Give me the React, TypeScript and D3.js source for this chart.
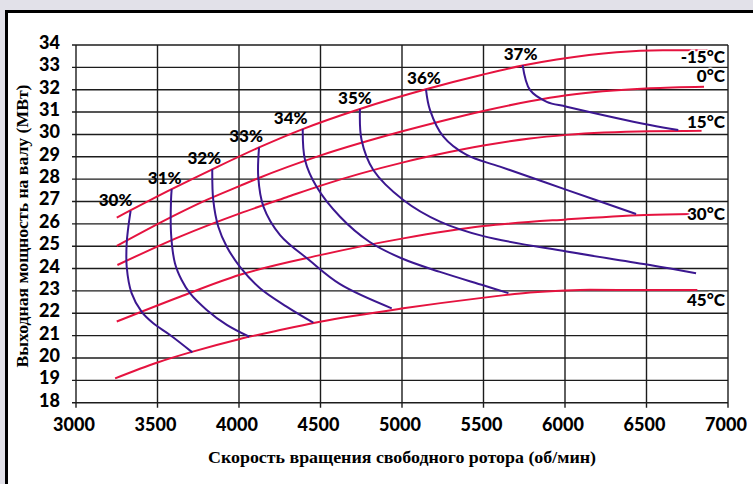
import React from "react";
import * as d3 from "d3";

const W = 753;
const H = 484;

// Axis ticks
const xTicks = [3000, 3500, 4000, 4500, 5000, 5500, 6000, 6500, 7000];
const yTicks = [18, 19, 20, 21, 22, 23, 24, 25, 26, 27, 28, 29, 30, 31, 32, 33, 34];

// Ambient temperature lines: [free-turbine speed (rpm), shaft power (MW)]
const tempLabels = ["-15°C", "0°C", "15°C", "30°C", "45°C"];
const tempM15: [number, number][] = [
  [3250, 26.28], [3587, 27.55], [3836, 28.44], [4123, 29.42], [4391, 30.24], [4742, 31.14],
  [5147, 32.02], [5499, 32.68], [5740, 33.08], [5949, 33.35], [6317, 33.68], [6600, 33.76],
  [6880, 33.76],
];
const temp0: [number, number][] = [
  [3250, 25.01], [3638, 26.5], [3802, 27.07], [4006, 27.7], [4118, 28.04], [4497, 29.05],
  [5008, 30.15], [5233, 30.58], [5499, 31.05], [5785, 31.48], [6010, 31.75], [6521, 32.06],
  [6853, 32.13],
];
const temp15: [number, number][] = [
  [3254, 24.16], [3638, 25.43], [4006, 26.47], [4292, 27.19], [4497, 27.7], [5008, 28.75],
  [5233, 29.12], [5499, 29.5], [5785, 29.82], [6010, 29.98], [6521, 30.14], [6838, 30.16],
];
const temp30: [number, number][] = [
  [3250, 21.63], [3638, 22.74], [4006, 23.72], [4497, 24.6], [5008, 25.35], [5499, 25.9],
  [6010, 26.2], [6495, 26.4], [6790, 26.44],
];
const temp45: [number, number][] = [
  [3240, 19.09], [3500, 19.8], [3700, 20.25], [4000, 20.84], [4252, 21.25], [4497, 21.62],
  [5008, 22.22], [5503, 22.7], [5785, 22.93], [6000, 23.02], [6153, 23.05], [6495, 23.04],
  [6812, 23.04],
];

// Efficiency lines
const effLabels = ["30%", "31%", "32%", "33%", "34%", "35%", "36%", "37%"];
const eff30: [number, number][] = [
  [3335, 26.58], [3320, 25.8], [3311, 25.13], [3311, 24.08], [3341, 22.9], [3402, 22.07],
  [3474, 21.55], [3577, 21.03], [3714, 20.25],
];
const eff31: [number, number][] = [
  [3587, 27.55], [3583, 27.07], [3583, 25.58], [3607, 24.24], [3648, 23.49], [3699, 22.9],
  [3802, 22.15], [3925, 21.48], [4063, 20.95],
];
const eff32: [number, number][] = [
  [3836, 28.44], [3842, 27.07], [3873, 25.87], [3925, 24.98], [4006, 24.08], [4129, 23.12],
  [4292, 22.3], [4456, 21.58],
];
const eff33: [number, number][] = [
  [4123, 29.42], [4118, 28.11], [4150, 26.77], [4252, 25.5], [4430, 24.38], [4620, 23.3],
  [4937, 22.22],
];
const eff34: [number, number][] = [
  [4391, 30.24], [4405, 28.86], [4476, 27.66], [4620, 26.32], [4800, 25.2], [5000, 24.45],
  [5233, 23.85], [5503, 23.24], [5653, 22.9],
];
const eff35: [number, number][] = [
  [4742, 31.14], [4752, 29.75], [4824, 28.41], [5008, 27.07], [5233, 26.1], [5499, 25.45],
  [6010, 24.76], [6521, 24.16], [6804, 23.79],
];
const eff36: [number, number][] = [
  [5147, 32.02], [5172, 31.09], [5254, 29.9], [5397, 29.08], [5601, 28.56], [6010, 27.52],
  [6436, 26.44],
];
const eff37: [number, number][] = [
  [5740, 33.1], [5785, 31.99], [5888, 31.46], [6010, 31.24], [6521, 30.42], [6695, 30.2],
];

const tempSeries = [tempM15, temp0, temp15, temp30, temp45];
const effSeries = [eff30, eff31, eff32, eff33, eff34, eff35, eff36, eff37];

// Label nudges (pixels)
const effLabelDx = [-15, -7, -8, -13, -12, -5, -2, -2];
const tempLabelDy = [12.7, -4.5, -2.6, 6, 16];

const RED = "#e5133f";
const PURPLE = "#3b1790";
const GRID = "#1c1c1c";
const TICK_FONT = "Lato, 'Open Sans', sans-serif";
const TITLE_FONT = "'Liberation Serif', 'DejaVu Serif', serif";

export default function App() {
  const x = d3.scaleLinear().domain([3000, 7000]).range([76, 728]);
  const y = d3.scaleLinear().domain([18, 34]).range([402.7, 45]);

  const tempLine = d3
    .line<[number, number]>()
    .x((d) => x(d[0]))
    .y((d) => y(d[1]))
    .curve(d3.curveMonotoneX);
  const effLine = d3
    .line<[number, number]>()
    .x((d) => x(d[0]))
    .y((d) => y(d[1]))
    .curve(d3.curveCatmullRom.alpha(0.5));

  const x0 = x(3000);
  const x1 = x(7000);
  const yTop = y(34);
  const yBot = y(18);

  return (
    <div style={{ position: "fixed", left: 0, top: 0, width: W, height: H }}>
      <svg width={W} height={H} style={{ display: "block" }}>
        <rect x={0} y={0} width={W} height={H} fill="#e2e1e9" />
        <rect x={6.5} y={11.5} width={900} height={600} fill="#ffffff" stroke="#000" strokeWidth={3} />

        {/* horizontal grid with left ticks */}
        {yTicks.map((t) => (
          <line key={"h" + t} x1={x0 - 4} x2={x1} y1={y(t)} y2={y(t)} stroke={GRID} strokeWidth={1.4} />
        ))}
        {/* vertical grid with bottom ticks */}
        {xTicks.map((t) => (
          <line key={"v" + t} x1={x(t)} x2={x(t)} y1={yTop} y2={yBot + 5} stroke={GRID} strokeWidth={1.4} />
        ))}

        {/* tick labels */}
        {yTicks.map((t) => (
          <text
            key={"yl" + t}
            x={60}
            y={y(t) + 4}
            textAnchor="end"
            fontFamily={TICK_FONT}
            fontWeight={900}
            fontSize={18}
            fill="#000"
          >
            {t}
          </text>
        ))}
        {xTicks.map((t) => (
          <text
            key={"xl" + t}
            x={x(t) - 2}
            y={431}
            textAnchor="middle"
            fontFamily={TICK_FONT}
            fontWeight={900}
            fontSize={18}
            fill="#000"
          >
            {t}
          </text>
        ))}

        {/* temperature lines */}
        {tempSeries.map((s, i) => (
          <path key={"t" + i} d={tempLine(s) || ""} fill="none" stroke={RED} strokeWidth={2} />
        ))}
        {/* efficiency lines */}
        {effSeries.map((s, i) => (
          <path key={"e" + i} d={effLine(s) || ""} fill="none" stroke={PURPLE} strokeWidth={2} />
        ))}

        {/* efficiency labels */}
        {effSeries.map((s, i) => (
          <text
            key={"el" + i}
            x={x(s[0][0]) + effLabelDx[i]}
            y={y(s[0][1]) - 5}
            textAnchor="middle"
            fontFamily={TICK_FONT}
            fontWeight={900}
            fontSize={17}
            fill="#000"
          >
            {effLabels[i]}
          </text>
        ))}

        {/* temperature labels */}
        {tempSeries.map((s, i) => {
          const last = s[s.length - 1];
          return (
            <text
              key={"tl" + i}
              x={725}
              y={y(last[1]) + tempLabelDy[i]}
              textAnchor="end"
              fontFamily={TICK_FONT}
              fontWeight={900}
              fontSize={17}
              fill="#000"
              stroke="#fff"
              strokeWidth={3}
              paintOrder="stroke"
            >
              {tempLabels[i]}
            </text>
          );
        })}

        {/* axis titles */}
        <text
          x={402}
          y={463}
          textAnchor="middle"
          fontFamily={TITLE_FONT}
          fontWeight={700}
          fontSize={17}
          textLength={388}
          lengthAdjust="spacingAndGlyphs"
          fill="#000"
        >
          Скорость вращения свободного ротора (об/мин)
        </text>
        <text
          transform="translate(28,226) rotate(-90)"
          textAnchor="middle"
          fontFamily={TITLE_FONT}
          fontWeight={700}
          fontSize={17}
          textLength={283}
          lengthAdjust="spacingAndGlyphs"
          fill="#000"
        >
          Выходная мощность на валу (МВт)
        </text>
      </svg>
    </div>
  );
}
